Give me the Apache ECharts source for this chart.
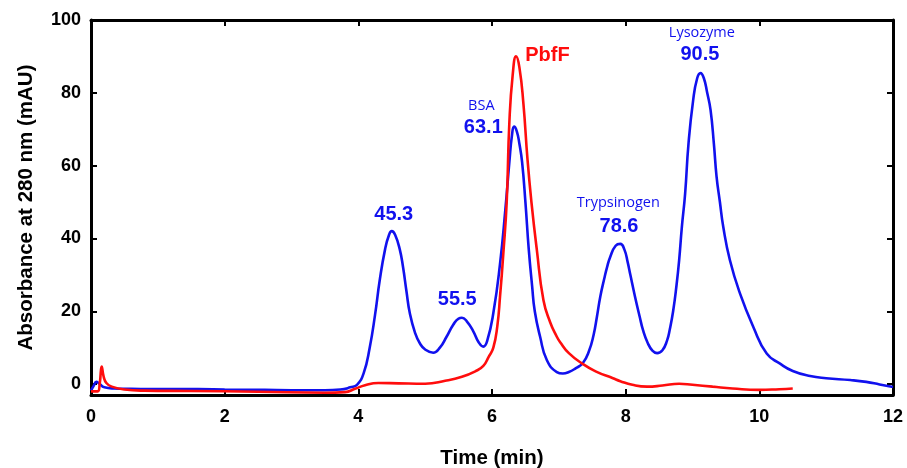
<!DOCTYPE html>
<html>
<head>
<meta charset="utf-8">
<script src="https://cdn.jsdelivr.net/npm/echarts@6/dist/echarts.min.js"></script>
<style>html,body{margin:0;padding:0;background:#fff;}#c{width:907px;height:468px;}</style>
</head>
<body>
<div id="c"></div>
<script>
// Blue trace: protein standards (time in min, absorbance in mAU)
const blueTime = [0.00,0.04,0.08,0.12,0.20,0.35,0.60,1.00,1.60,2.00,2.60,3.00,3.50,3.73,3.88,3.98,4.08,4.17,4.25,4.32,4.40,4.46,4.50,4.55,4.62,4.67,4.72,4.77,4.85,4.92,5.00,5.12,5.22,5.32,5.42,5.50,5.55,5.62,5.72,5.80,5.87,5.93,6.02,6.12,6.20,6.26,6.30,6.33,6.37,6.41,6.45,6.50,6.55,6.60,6.64,6.72,6.82,6.97,7.06,7.15,7.25,7.36,7.45,7.52,7.57,7.62,7.68,7.72,7.77,7.85,7.92,7.98,8.03,8.07,8.14,8.21,8.26,8.33,8.40,8.47,8.55,8.62,8.66,8.71,8.76,8.80,8.84,8.89,8.94,9.01,9.07,9.12,9.17,9.22,9.27,9.32,9.36,9.41,9.46,9.56,9.71,9.91,10.11,10.31,10.50,10.76,11.00,11.36,11.60,11.80,12.00];
const blueAbs  = [-1.8,-0.5,0.6,0.2,-0.9,-1.2,-1.3,-1.4,-1.4,-1.5,-1.6,-1.7,-1.7,-1.5,-0.9,-0.2,3,10,19,28.5,37,41,42,41,37,32,25.5,19.5,14,11.2,9.5,8.6,10,13,16.3,18,18.2,17.3,14.5,11.5,10.3,12,19.5,33,48,61,68.5,70.7,69.5,66,61,50,37,27,20,13,6.6,3.3,2.9,3.3,4.3,5.8,9,13.5,18.5,24,29,32,35,38,38.5,37,33.5,30,24,18.5,14.8,11.3,9.2,8.5,9.3,12,15,20,27,34,43,52.4,66,78,84,85.4,84,80,75.3,66,57,50,43.2,34,24.9,15.7,8.4,5.6,3.6,2.2,1.6,1.1,0.6,-0.1,-0.8];
// Red trace: PbfF
const redTime = [0.00,0.10,0.13,0.16,0.19,0.23,0.31,0.50,0.80,1.50,2.50,3.50,3.80,3.95,4.10,4.30,4.60,5.00,5.30,5.55,5.75,5.87,5.95,6.02,6.08,6.12,6.17,6.22,6.26,6.31,6.36,6.41,6.47,6.53,6.59,6.67,6.77,6.87,6.97,7.02,7.15,7.36,7.55,7.81,7.92,8.10,8.32,8.55,8.80,9.00,9.30,9.60,10.00,10.30,10.50];
const redAbs  = [-2,-2,0,4.8,2,0.3,-0.7,-1.5,-1.8,-1.9,-2.1,-2.4,-2.2,-1.3,-0.3,0.3,0.2,0.1,0.9,2,3.5,5,7.5,10,16,24,36,50,72,85,90,87,77,62,50,37,23,17,13,11.5,8.5,5.5,3.5,1.6,0.8,-0.2,-0.7,-0.4,0.1,-0.2,-0.7,-1.2,-1.6,-1.4,-1.2];
// Axis ticks
const xTicks = [0,2,4,6,8,10,12];
const yTicks = [0,20,40,60,80,100];
// Annotations: text, anchored at data coordinates
const annoText  = ['45.3','55.5','BSA','63.1','Trypsinogen','78.6','Lysozyme','90.5','PbfF'];
const annoTime  = [4.53,5.48,5.84,5.87,7.89,7.90,9.14,9.11,6.83];
const annoAbs   = [46.5,23.1,76.4,70.6,49.8,43.4,96.6,90.4,90.3];
const annoKind  = ['num','num','name','num','name','num','name','num','pbff'];

const BLUE = '#1111ee', RED = '#ff0d0d';
const styles = {
  num:  {color: BLUE, fontSize: 20, fontWeight: 'bold', fontFamily: 'Liberation Sans'},
  name: {color: BLUE, fontSize: 14.5, fontWeight: 'normal', fontFamily: 'Open Sans'},
  pbff: {color: RED,  fontSize: 20, fontWeight: 'bold', fontFamily: 'Liberation Sans'}
};
const annoData = annoText.map((t,i)=>({
  coord:[annoTime[i], annoAbs[i]], value:t,
  label:Object.assign({show:true, position:'inside', formatter:t}, styles[annoKind[i]])
}));

const chart = echarts.init(document.getElementById('c'), null, {renderer:'canvas'});
const baseFont = {fontFamily:'Liberation Sans', fontWeight:'bold', color:'#000'};
const axisLine = {show:true, onZero:false, lineStyle:{color:'#000', width:3}};
const tickIn = {show:true, inside:true, length:6, lineStyle:{color:'#000', width:2}};
chart.setOption({
  animation:false,
  grid:{left:91, right:14, top:20, bottom:73, containLabel:false, outerBoundsMode:'none'},
  xAxis:[{
    type:'value', min:0, max:12, interval:2, position:'bottom',
    axisLine:axisLine, axisTick:tickIn, splitLine:{show:false},
    axisLabel:Object.assign({fontSize:18, margin:13, customValues:xTicks}, baseFont),
    name:'Time (min)', nameLocation:'middle', nameGap:53, nameMoveOverlap:false,
    nameTextStyle:Object.assign({fontSize:20.5}, baseFont)
  },{
    type:'value', min:0, max:12, interval:2, position:'top',
    axisLine:axisLine, axisTick:tickIn, splitLine:{show:false}, axisLabel:{show:false}
  }],
  yAxis:[{
    type:'value', min:-3, max:100, position:'left',
    axisLine:axisLine, splitLine:{show:false},
    axisTick:Object.assign({customValues:yTicks}, tickIn),
    axisLabel:Object.assign({fontSize:18, margin:10, padding:[4,0,0,0], customValues:yTicks}, baseFont),
    name:'Absorbance at 280 nm (mAU)', nameLocation:'middle', nameGap:54, nameMoveOverlap:false,
    nameTextStyle:Object.assign({fontSize:20.5}, baseFont)
  },{
    type:'value', min:-3, max:100, position:'right',
    axisLine:axisLine, splitLine:{show:false},
    axisTick:Object.assign({customValues:yTicks}, tickIn), axisLabel:{show:false}
  }],
  series:[{
    type:'line', name:'Proteins', data:blueTime.map((t,i)=>[t,blueAbs[i]]),
    showSymbol:false, smooth:0.5,
    lineStyle:{color:BLUE, width:2.6}, z:3,
    markPoint:{symbol:'circle', symbolSize:1, itemStyle:{color:'rgba(0,0,0,0)'}, silent:true,
      data:annoData.filter((d,i)=>annoKind[i]!=='pbff')}
  },{
    type:'line', name:'PbfF', data:redTime.map((t,i)=>[t,redAbs[i]]),
    showSymbol:false, smooth:0.5,
    lineStyle:{color:RED, width:2.6}, z:4,
    markPoint:{symbol:'circle', symbolSize:1, itemStyle:{color:'rgba(0,0,0,0)'}, silent:true,
      data:annoData.filter((d,i)=>annoKind[i]==='pbff')}
  }]
});
</script>
</body>
</html>
